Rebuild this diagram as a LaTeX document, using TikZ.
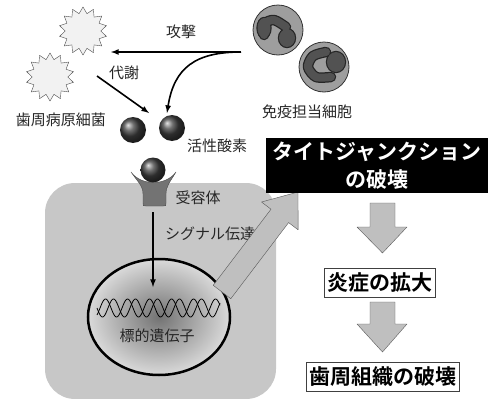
\documentclass[tikz,border=0pt]{standalone}
\usepackage{fontspec}
\setmainfont{Noto Sans CJK JP}[BoldFont={Noto Sans CJK JP Bold}]
\usetikzlibrary{arrows,shapes,positioning}
\pgfdeclareradialshading{nucl}{\pgfpoint{0bp}{0bp}}{color(0bp)=(black!55); color(34bp)=(white); color(50bp)=(white)}

\begin{document}
\begin{tikzpicture}
	[x=1pt,y=-1pt,font=\fontsize{15}{18}\selectfont,
	bact/.style={star,star points=14,star point ratio=1.35,minimum size=48pt,
		draw=black!70,fill=black!5,inner sep=0pt},
	ros/.style={circle,minimum size=26pt,inner sep=0pt,shading=ball,ball color=black!75},
	imm/.style={circle,minimum size=50pt,draw=black!80,thick,fill=black!38,inner sep=0pt},
	lbl/.style={text=black!85,inner sep=0pt},
	res/.style={draw=black!75,fill=white,font=\fontsize{21}{24}\selectfont\bfseries,
		minimum height=29pt,inner xsep=3pt,inner ysep=0pt},
	bigarr/.style={draw=black!65,fill=black!25,line join=round},
	arc/.style={->,>=latex,line width=1.6pt}]
	\useasboundingbox (0,0) rectangle (491,399);
	
	\node (bac1) [bact] at (83,31) {};
	\node (bac2) [bact] at (50,77) {};
	
	\node (imm1) [imm] at (278,30) {};
	\node (imm2) [imm] at (324,67) {};
	\foreach \w/\e/\c in {10.5/1.2/black!85,8/0/black!68}{
		\draw [line width=\w pt,\c,line cap=round,line join=round]
			plot [smooth] coordinates {(264,35) (264,24) (274,20) (286,27)};
		\fill [\c] (264,28) ellipse ({6.5+\e} and {10+\e});
		\fill [\c] (287,38) ellipse ({8+\e} and {9+\e});
		\draw [line width=\w pt,\c,line cap=round,line join=round]
			plot [smooth] coordinates {(326,52) (313,56) (308,67) (316,77) (331,77)};
		\fill [\c] (336,62) ellipse ({9+\e} and {10+\e});
	}
	
	\node (cell) [fill=black!22,rounded corners=30pt,minimum width=231pt,minimum height=216pt,
		inner sep=0pt] at (160.5,291) {};
	
	\draw [fill=black!55,draw=black!70] (131,172) .. controls (138,182) and (143,186) .. (143,194)
		-- (143,203) .. controls (143,206) .. (146,206) -- (163,206) .. controls (166,206) .. (166,203)
		-- (166,194) .. controls (166,186) and (170,182) .. (176,172)
		.. controls (166,186) and (141,186) .. (131,172) -- cycle;
	
	\node (ros1) [ros] at (133,130) {};
	\node (ros2) [ros] at (172,128) {};
	\node (ros3) [ros,minimum size=25pt] at (153,170) {};
	
	\node (nuc) [ellipse,minimum width=142pt,minimum height=116pt,draw=black,line width=2.5pt,
		shading=nucl] at (159,317) {};
	\draw [thick] plot [domain=97:220,samples=150,smooth] (\x,{308+9*sin(16.3636*(\x-97))});
	\draw [thick] plot [domain=97:220,samples=150,smooth] (\x,{308+9*sin(16.3636*(\x-97)+130)});
	
	\node (lattack) [lbl] at (181,32) {攻撃};
	\node (lmet) [lbl] at (124,73) {代謝};
	\node (lbac) [lbl] at (61,120) {歯周病原細菌};
	\node (lros) [lbl] at (217,146) {活性酸素};
	\node (lrcpt) [lbl] at (198,198) {受容体};
	\node (lsig) [lbl] at (210,234) {シグナル伝達};
	\node (lgene) [lbl] at (157,336) {標的遺伝子};
	\node (limm) [lbl] at (307,112) {免疫担当細胞};
	
	\coordinate (atk) at (241,52);
	\coordinate (atkend) at (111,52);
	\coordinate (rosin) at (167,113);
	\coordinate (met) at (97,76);
	\coordinate (metend) at (149,113);
	\coordinate (sig) at (153,212);
	\coordinate (sigend) at (153,287);
	
	\draw [arc] (atk) to (atkend);
	\draw [arc] (atk) .. controls (195,52) and (174,68) .. (rosin);
	\draw [arc] (met) to (metend);
	\draw [arc] (sig) to (sigend);
	
	\draw [bigarr] (213.2,285.3) -- (271.0,209.2) -- (261.5,202.0) -- (298,192)
		-- (298.1,229.8) -- (288.6,222.6) -- (230.8,298.7) -- cycle;
	
	\node (tj) [fill=black,text=white,align=center,font=\fontsize{21}{28}\selectfont\bfseries,
		minimum width=222pt,minimum height=55pt,inner sep=0pt] at (377,165.5)
		{タイトジャンクション\\の破壊};
	\node (infl) [res] at (380,283) {炎症の拡大};
	\node (tissue) [res] at (383,377) {歯周組織の破壊};
	
	\foreach \a/\b/\c in {203/227/253,302/324/352}
		\draw [bigarr] (370,\a) -- (395,\a) -- (395,\b) -- (407,\b) -- (382.5,\c) -- (357,\b)
			-- (370,\b) -- cycle;
\end{tikzpicture}
\end{document}
